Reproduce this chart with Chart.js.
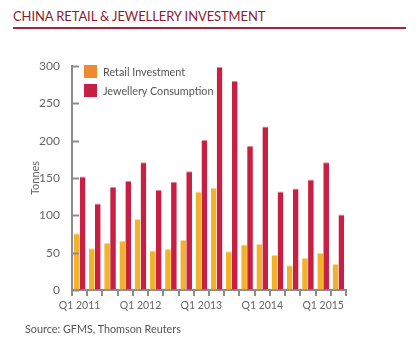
<!DOCTYPE html>
<html>
<head>
<meta charset="utf-8">
<script src="https://cdn.jsdelivr.net/npm/chart.js@4"></script>
<style>
  html, body { margin: 0; padding: 0; background: #fff; }
  body { width: 418px; height: 347px; position: relative; overflow: hidden; font-family: Lato, "Open Sans", sans-serif; }
  #title { position: absolute; left: 13px; top: 8px; font-size: 13px; color: #8e1c2f; letter-spacing: -0.1px; white-space: nowrap; }
  #rule { position: absolute; left: 13px; top: 27px; width: 393px; height: 2px; background: #a8233b; }
  #source { position: absolute; left: 25px; top: 322px; font-size: 10.8px; color: #555; white-space: nowrap; }
  #legend { position: absolute; left: 84px; top: 62px; font-size: 10.8px; color: #555; }
  .row { height: 19px; display: flex; align-items: center; }
  .sw { width: 13px; height: 13px; margin-right: 6px; }
  canvas { position: absolute; left: 0; top: 0; }
</style>
</head>
<body>
<div id="title">CHINA RETAIL &amp; JEWELLERY INVESTMENT</div>
<div id="rule"></div>
<canvas id="chart" width="418" height="347"></canvas>
<div id="legend"></div>
<div id="source">Source: GFMS, Thomson Reuters</div>
<script>
// quarters Q1 2011 .. Q2 2015
const quarters = [
  'Q1 2011', 'Q2 2011', 'Q3 2011', 'Q4 2011',
  'Q1 2012', 'Q2 2012', 'Q3 2012', 'Q4 2012',
  'Q1 2013', 'Q2 2013', 'Q3 2013', 'Q4 2013',
  'Q1 2014', 'Q2 2014', 'Q3 2014', 'Q4 2014',
  'Q1 2015', 'Q2 2015'
];
const retailInvestment = [76, 56, 63, 66, 95, 53, 55, 67, 132, 137, 52, 61, 62, 47, 33, 43, 50, 35];
const jewelleryConsumption = [152, 116, 138, 146, 171, 134, 145, 159, 201, 299, 280, 193, 219, 132, 136, 148, 171, 101];
const yTicks = [0, 50, 100, 150, 200, 250, 300];

const axisGrey = '#8c8c8c';
const retailColor = '#f3b22d';
const retailLegendColor = '#ef8a30';
const jewelColor = '#c81f44';

// legend (html)
const legendItems = [
  { text: 'Retail Investment', color: retailLegendColor },
  { text: 'Jewellery Consumption', color: jewelColor }
];
const legendEl = document.getElementById('legend');
legendItems.forEach(it => {
  const row = document.createElement('div');
  row.className = 'row';
  row.innerHTML = '<div class="sw" style="background:' + it.color + '"></div><span>' + it.text + '</span>';
  legendEl.appendChild(row);
});

// ticks on the y axis point into the plot
const innerTicks = {
  id: 'innerTicks',
  afterDraw(chart) {
    const ctx = chart.ctx;
    const y = chart.scales.y;
    const left = chart.chartArea.left;
    ctx.save();
    ctx.strokeStyle = axisGrey;
    ctx.lineWidth = 2;
    yTicks.forEach(v => {
      const py = Math.round(y.getPixelForValue(v)) + 0.5;
      ctx.beginPath();
      ctx.moveTo(left, py);
      ctx.lineTo(left + 7, py);
      ctx.stroke();
    });
    ctx.restore();
  }
};

new Chart(document.getElementById('chart'), {
  type: 'bar',
  data: {
    labels: quarters,
    datasets: [
      {
        label: 'Retail Investment',
        data: retailInvestment,
        backgroundColor: retailColor,
        borderColor: '#f9d98f',
        borderWidth: { top: 1, right: 0, bottom: 0, left: 0 },
        borderSkipped: 'start',
        barPercentage: 0.96,
        categoryPercentage: 0.78
      },
      {
        label: 'Jewellery Consumption',
        data: jewelleryConsumption,
        backgroundColor: jewelColor,
        borderColor: '#e58398',
        borderWidth: { top: 1, right: 0, bottom: 0, left: 0 },
        borderSkipped: 'start',
        barPercentage: 0.96,
        categoryPercentage: 0.78
      }
    ]
  },
  options: {
    responsive: false,
    animation: false,
    layout: { padding: { left: 25, right: 72, top: 66, bottom: 32 } },
    plugins: {
      legend: { display: false },
      tooltip: { enabled: false }
    },
    scales: {
      x: {
        afterFit: s => { s.height = 25; },
        grid: { offset: true, drawOnChartArea: false, color: axisGrey, lineWidth: 2, tickLength: 6 },
        border: { color: axisGrey, width: 2 },
        ticks: {
          autoSkip: false,
          maxRotation: 0,
          padding: 3,
          color: '#666',
          font: { family: 'Lato', size: 10.5 },
          callback: function (value, i) {
            const lab = quarters[i];
            return lab.startsWith('Q1') ? lab : '';
          }
        }
      },
      y: {
        min: 0,
        max: 300,
        afterFit: s => { s.width = 47; },
        afterBuildTicks: s => { s.ticks = yTicks.map(v => ({ value: v })); },
        grid: { drawOnChartArea: false, drawTicks: false },
        border: { color: axisGrey, width: 2 },
        ticks: {
          padding: 12,
          color: '#666',
          font: { family: 'Lato', size: 12 }
        },
        title: {
          display: true,
          text: 'Tonnes',
          color: '#666',
          font: { family: 'Lato', size: 11 },
          padding: { top: 4, bottom: 0 }
        }
      }
    }
  },
  plugins: [innerTicks]
});
</script>
</body>
</html>
